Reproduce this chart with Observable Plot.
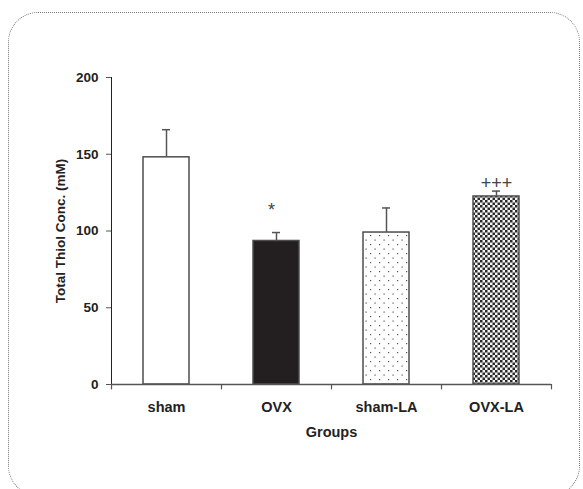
<!DOCTYPE html>
<html>
<head>
<meta charset="utf-8">
<script src="https://cdn.jsdelivr.net/npm/d3@7"></script>
<script src="https://cdn.jsdelivr.net/npm/@observablehq/plot@0.6"></script>
<style>
  html, body { margin: 0; padding: 0; background: #fff; }
  #wrap { position: relative; width: 583px; height: 489px; overflow: hidden; background: #fff; }
  #border { position: absolute; left: 8px; top: 12px; width: 572px; height: 484px;
            border: 1px dotted #777; border-radius: 30px; box-sizing: border-box; }
  #chart { position: absolute; left: 0; top: 0; }
  #chart svg [aria-label="y-axis tick"], #chart svg [aria-label="x-axis tick"] { stroke: #555; }
  #chart svg [aria-label="x-axis tick label"] { font-size: 14.5px; }
  #chart svg [aria-label="x-axis label"] { font-size: 14.5px; }
</style>
</head>
<body>
<div id="wrap"><div id="border"></div><div id="chart"></div></div>
<script>
const groups = ["sham", "OVX", "sham-LA", "OVX-LA"];
const means = [148, 93.5, 99, 122.5];
const sems = [18, 5.5, 16, 3.5];
const sigMarks = ["", "*", "", "+++"];
const yTicks = [0, 50, 100, 150, 200];

const data = groups.map((g, i) => ({group: g, mean: means[i], top: means[i] + sems[i], sig: sigMarks[i]}));
const fills = ["#ffffff", "#231f20", "url(#dotsPat)", "url(#checkPat)"];
const lineColor = "#555";

const svg = Plot.plot({
  width: 583,
  height: 489,
  marginLeft: 111,
  marginRight: 32,
  marginTop: 77,
  marginBottom: 105,
  style: {fontFamily: "'Liberation Sans', Arial, sans-serif", fontSize: "13.5px", fontWeight: "bold", color: "#222", background: "transparent"},
  x: {domain: groups, paddingInner: 0.58, paddingOuter: 0.29, tickSize: 0, tickPadding: 17,
      label: "Groups", labelAnchor: "center", labelOffset: 52},
  y: {domain: [0, 200], ticks: yTicks, tickSize: 5, tickPadding: 8, line: true,
      label: "Total Thiol Conc. (mM)", labelAnchor: "center", labelOffset: 56, labelArrow: "none"},
  color: {domain: groups, range: fills},
  marks: [
    Plot.barY(data, {x: "group", y: "mean", fill: "group", stroke: "#4d4d4d", strokeWidth: 1.5}),
    Plot.ruleX(data, {x: "group", y1: "mean", y2: "top", stroke: lineColor, strokeWidth: 1.5}),
    Plot.tickY(data, {x: "group", y: "top", insetLeft: 19, insetRight: 19, stroke: lineColor, strokeWidth: 1.5}),
    Plot.ruleY([0], {stroke: lineColor, strokeWidth: 1.5}),
    Plot.ruleX(data, {x: "group", y1: 0, y2: -3.5, dx: -55, stroke: lineColor, strokeWidth: 1.2}),
    Plot.ruleX(data.slice(-1), {x: "group", y1: 0, y2: -3.5, dx: 55, stroke: lineColor, strokeWidth: 1.2}),
    Plot.text(data.filter(d => d.sig === "*"), {x: "group", y: "top", text: "sig", dx: -5, dy: -22, fontSize: 18, fontWeight: "normal", fill: "#444"}),
    Plot.text(data.filter(d => d.sig === "+++"), {x: "group", y: "top", text: "sig", dy: -8, fontSize: 18, fontWeight: "normal", fill: "#444"})
  ]
});

d3.select(svg).insert("defs", ":first-child").html(`
  <pattern id="checkPat" width="5" height="5" patternUnits="userSpaceOnUse">
    <rect width="5" height="5" fill="#f4f4f4"/>
    <rect width="2.5" height="2.5" fill="#2a2a2a"/>
    <rect x="2.5" y="2.5" width="2.5" height="2.5" fill="#2a2a2a"/>
  </pattern>
  <pattern id="dotsPat" width="9" height="9" patternUnits="userSpaceOnUse">
    <rect width="9" height="9" fill="#ffffff"/>
    <rect x="1" y="1" width="1.2" height="1.2" fill="#555"/>
    <rect x="5.5" y="5.5" width="1.2" height="1.2" fill="#555"/>
  </pattern>`);

document.getElementById("chart").appendChild(svg);
</script>
</body>
</html>
